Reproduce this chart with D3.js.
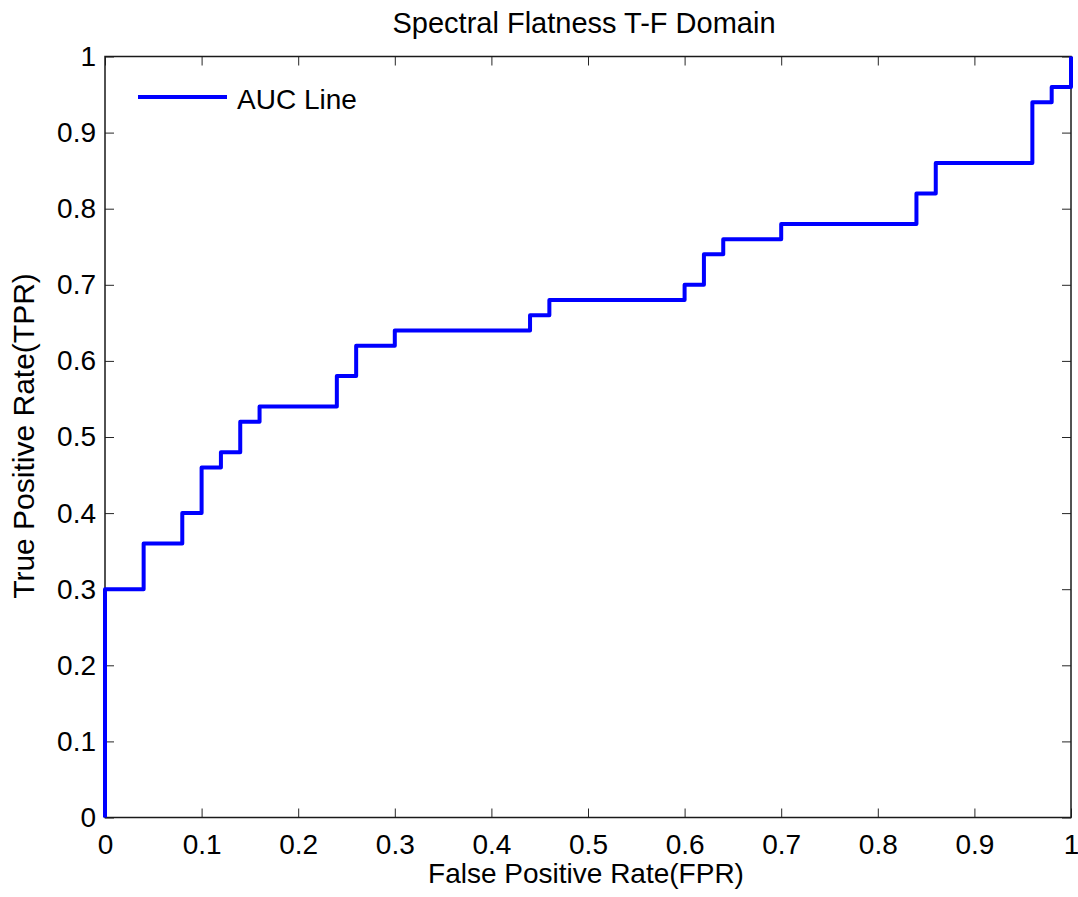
<!DOCTYPE html>
<html>
<head>
<meta charset="utf-8">
<script src="https://cdn.jsdelivr.net/npm/d3@7"></script>
<style>
  html, body { margin: 0; padding: 0; background: #fff; }
  svg { display: block; font-family: "Liberation Sans", Arial, Helvetica, sans-serif; }
</style>
</head>
<body>
<svg id="chart" width="1078" height="897"></svg>
<script>
// ROC curve corner points (false positive rate, true positive rate)
const fpr = [0, 0, 0.04, 0.04, 0.08, 0.08, 0.10, 0.10, 0.12, 0.12, 0.14, 0.14, 0.16, 0.16,
             0.24, 0.24, 0.26, 0.26, 0.30, 0.30, 0.44, 0.44, 0.46, 0.46, 0.60, 0.60, 0.62, 0.62,
             0.64, 0.64, 0.70, 0.70, 0.84, 0.84, 0.86, 0.86, 0.96, 0.96, 0.98, 0.98, 1.00, 1.00];
const tpr = [0, 0.30, 0.30, 0.36, 0.36, 0.40, 0.40, 0.46, 0.46, 0.48, 0.48, 0.52, 0.52, 0.54,
             0.54, 0.58, 0.58, 0.62, 0.62, 0.64, 0.64, 0.66, 0.66, 0.68, 0.68, 0.70, 0.70, 0.74,
             0.74, 0.76, 0.76, 0.78, 0.78, 0.82, 0.82, 0.86, 0.86, 0.94, 0.94, 0.96, 0.96, 1.00];
const xTicks = [0, 0.1, 0.2, 0.3, 0.4, 0.5, 0.6, 0.7, 0.8, 0.9, 1];
const yTicks = [0, 0.1, 0.2, 0.3, 0.4, 0.5, 0.6, 0.7, 0.8, 0.9, 1];
const titleText = "Spectral Flatness T-F Domain";
const xLabel = "False Positive Rate(FPR)";
const yLabel = "True Positive Rate(TPR)";
const legendLabel = "AUC Line";

const svg = d3.select("#chart");
const plotL = 105, plotR = 1071, plotT = 56.5, plotB = 817.5;
const x = d3.scaleLinear().domain([0, 1]).range([plotL, plotR]);
const y = d3.scaleLinear().domain([0, 1]).range([plotB, plotT]);
const tickLen = 9;
const tickFont = 28;
const fmt = d => d3.format("~g")(d);

// axes with inward ticks on all four sides
const axes = svg.append("g").attr("class", "axes");
function styleAxis(g, showLabels) {
  g.select(".domain").remove();
  g.selectAll(".tick line").attr("stroke", "#262626").attr("stroke-width", 1);
  g.selectAll(".tick text").attr("fill", "#000").attr("font-size", tickFont)
    .style("font-family", "'Liberation Sans', Arial, sans-serif");
  if (!showLabels) g.selectAll(".tick text").remove();
}
axes.append("g").attr("transform", `translate(0,${plotB})`)
  .call(d3.axisBottom(x).tickValues(xTicks).tickFormat(fmt).tickSizeInner(-tickLen).tickSizeOuter(0).tickPadding(17))
  .call(g => styleAxis(g, true));
axes.append("g").attr("transform", `translate(0,${plotT})`)
  .call(d3.axisTop(x).tickValues(xTicks).tickSizeInner(-tickLen).tickSizeOuter(0))
  .call(g => styleAxis(g, false));
axes.append("g").attr("transform", `translate(${plotL},0)`)
  .call(d3.axisLeft(y).tickValues(yTicks).tickFormat(fmt).tickSizeInner(-tickLen).tickSizeOuter(0).tickPadding(9))
  .call(g => styleAxis(g, true));
axes.append("g").attr("transform", `translate(${plotR},0)`)
  .call(d3.axisRight(y).tickValues(yTicks).tickSizeInner(-tickLen).tickSizeOuter(0))
  .call(g => styleAxis(g, false));

// box
svg.append("rect")
  .attr("x", plotL).attr("y", plotT)
  .attr("width", plotR - plotL).attr("height", plotB - plotT)
  .attr("fill", "none").attr("stroke", "#1a1a1a").attr("stroke-width", 1.5);

// ROC curve
const pts = fpr.map((f, i) => [f, tpr[i]]);
svg.append("path")
  .datum(pts)
  .attr("fill", "none")
  .attr("stroke", "#0000ff")
  .attr("stroke-width", 4)
  .attr("stroke-linejoin", "round")
  .attr("d", d3.line().x(d => x(d[0])).y(d => y(d[1])));

// legend
const lg = svg.append("g");
lg.append("line").attr("x1", 138).attr("x2", 227).attr("y1", 97).attr("y2", 97)
  .attr("stroke", "#0000ff").attr("stroke-width", 4);
lg.append("text").attr("x", 237).attr("y", 109).attr("font-size", 28).attr("fill", "#000")
  .text(legendLabel);

// title and axis labels
svg.append("text").attr("x", (plotL + plotR) / 2 - 4).attr("y", 33)
  .attr("text-anchor", "middle").attr("font-size", 29).attr("fill", "#000").text(titleText);
svg.append("text").attr("x", (plotL + plotR) / 2 - 2).attr("y", 883)
  .attr("text-anchor", "middle").attr("font-size", 28).attr("fill", "#000").text(xLabel);
svg.append("text")
  .attr("transform", `translate(34,${(plotT + plotB) / 2 - 1}) rotate(-90)`)
  .attr("text-anchor", "middle").attr("font-size", 30).attr("fill", "#000").text(yLabel);
</script>
</body>
</html>
